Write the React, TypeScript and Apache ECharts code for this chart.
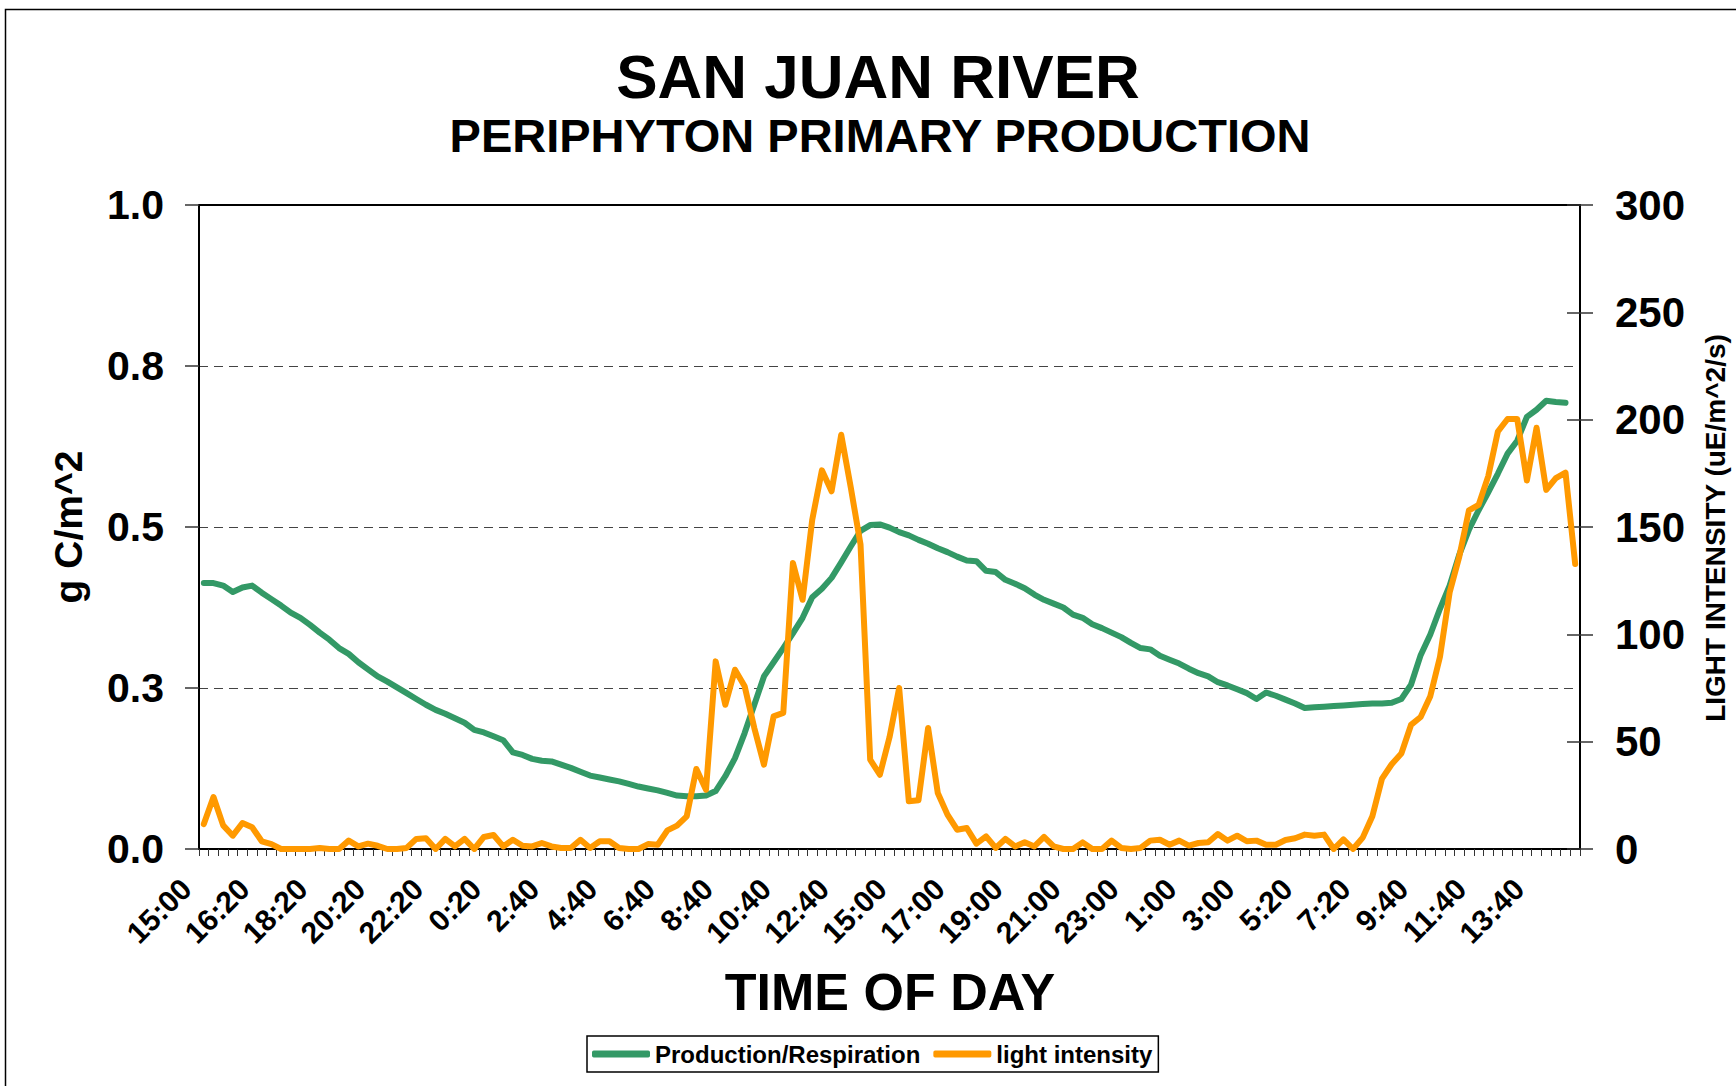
import React, { useEffect, useRef } from "react";
import * as echarts from "echarts";

const FONT = '"Liberation Sans", Arial, Helvetica, sans-serif';

const categories = [
  "15:00","15:20","15:40","15:50","16:00","16:10","16:20","16:40","17:00","17:20",
  "17:40","18:00","18:20","18:40","19:00","19:20","19:40","20:00","20:20","20:40",
  "21:00","21:20","21:40","22:00","22:20","22:40","23:00","23:20","23:40","0:00",
  "0:20","0:40","1:00","1:20","1:40","2:10","2:40","3:00","3:20","3:40",
  "4:00","4:20","4:40","5:00","5:20","5:40","6:00","6:20","6:40","7:00",
  "7:20","7:40","8:00","8:20","8:40","9:00","9:20","9:40","10:00","10:20",
  "10:40","11:00","11:20","11:40","12:00","12:20","12:40","13:00","13:20","13:40",
  "14:00","14:30","15:00","15:20","15:40","16:00","16:20","16:40","17:00","17:20",
  "17:40","18:00","18:20","18:40","19:00","19:20","19:40","20:00","20:20","20:40",
  "21:00","21:20","21:40","22:00","22:20","22:40","23:00","23:20","23:40","0:00",
  "0:20","0:40","1:00","1:20","1:40","2:00","2:20","2:40","3:00","3:20",
  "3:40","4:00","4:20","4:50","5:20","5:40","6:00","6:20","6:40","7:00",
  "7:20","7:40","8:00","8:20","8:40","9:10","9:40","10:00","10:20","10:40",
  "11:00","11:20","11:40","12:00","12:20","12:40","13:00","13:20","13:40","14:00",
  "14:20","14:40","15:00"
];

const productionRespiration = [
  0.413,0.413,0.409,0.399,0.406,0.409,0.398,0.388,0.378,0.367,
  0.359,0.348,0.336,0.325,0.312,0.303,0.290,0.279,0.268,0.260,
  0.251,0.242,0.233,0.224,0.216,0.210,0.203,0.196,0.185,0.181,
  0.175,0.169,0.150,0.146,0.140,0.137,0.136,0.131,0.126,0.120,
  0.114,0.111,0.108,0.105,0.101,0.097,0.094,0.091,0.087,0.083,
  0.082,0.082,0.083,0.090,0.113,0.141,0.180,0.224,0.268,0.290,
  0.312,0.335,0.359,0.391,0.404,0.421,0.445,0.470,0.494,0.503,
  0.504,0.499,0.492,0.487,0.480,0.474,0.467,0.461,0.454,0.448,
  0.447,0.432,0.430,0.418,0.412,0.405,0.395,0.387,0.381,0.375,
  0.364,0.359,0.349,0.343,0.336,0.329,0.320,0.312,0.310,0.300,
  0.294,0.288,0.280,0.273,0.268,0.259,0.254,0.248,0.242,0.233,
  0.243,0.238,0.232,0.226,0.219,0.220,0.221,0.222,0.223,0.224,
  0.225,0.226,0.226,0.227,0.233,0.255,0.301,0.333,0.373,0.409,
  0.457,0.496,0.526,0.554,0.583,0.614,0.634,0.671,0.682,0.696,
  0.694,0.693,null
];

const lightIntensity = [
  11.6,24.2,11.0,6.2,12.1,10.1,3.6,2.3,0,0,
  0,0,0.5,0,0,3.9,1.2,2.5,1.5,0,
  0,0.5,4.7,5.0,0,4.7,1.2,4.7,0,5.6,
  6.5,1.2,4.3,1.5,1.2,2.8,1.2,0.5,0.5,4.3,
  0.5,3.6,3.6,0.5,0,0,2.3,2.0,8.7,10.9,
  15.2,37.3,27.6,87.4,67.2,83.5,75.8,56.4,39.3,61.8,
  63.4,133.2,116.1,153.4,176.4,166.6,193.0,168.2,141.8,41.6,
  34.6,52.0,75.0,22.2,22.7,56.4,26.1,16.0,9.0,9.8,
  2.5,5.9,0.5,4.7,1.2,3.1,1.2,5.6,1.2,0,
  0,3.1,0,0,3.9,0.5,0,0.5,3.9,4.3,
  2.0,3.9,1.6,2.8,3.1,7.0,3.9,6.2,3.6,3.9,
  2.0,2.0,4.2,5.0,6.7,6.2,6.7,0,4.5,0,
  5.3,15.3,32.8,39.5,44.5,57.8,61.5,71.2,89.5,119.5,
  136.2,157.8,160.3,173.7,194.5,200.3,200.3,171.7,196.2,167.3,
  172.8,175.3,132.8
];

const seriesNames = ["Production/Respiration", "light intensity"];
const seriesColors = ["#339966", "#FF9900"];

function buildOption() {
  const boldText = (size: number) => ({
    fontSize: size,
    fontWeight: "bold",
    fontFamily: FONT,
    color: "#000",
  });
  const gText = (text: string, x: number, y: number, size: number, rotation = 0) => ({
    type: "text",
    x,
    y,
    rotation,
    silent: true,
    style: {
      text,
      fill: "#000",
      fontSize: size,
      fontWeight: "bold",
      fontFamily: FONT,
      align: "center",
      verticalAlign: "middle",
      textAlign: "center",
      textVerticalAlign: "middle",
    },
  });
  return {
    animation: false,
    backgroundColor: "#fff",
    grid: {
      left: 199,
      top: 205,
      width: 1381,
      height: 644,
      show: true,
      borderColor: "#000",
      borderWidth: 2,
      backgroundColor: "transparent",
    },
    legend: {
      left: 587,
      top: 1036,
      orient: "horizontal",
      data: seriesNames,
      icon: "roundRect",
      itemWidth: 58,
      itemHeight: 7,
      itemGap: 13,
      borderColor: "#000",
      borderWidth: 1.5,
      padding: [6, 6, 6, 5],
      backgroundColor: "#fff",
      textStyle: { ...boldText(24), lineHeight: 24 },
    },
    xAxis: {
      type: "category",
      data: categories,
      boundaryGap: true,
      axisLine: { show: true, lineStyle: { color: "#000", width: 1.5 } },
      axisTick: {
        show: true,
        interval: 0,
        length: 7,
        lineStyle: { color: "#333", width: 1 },
      },
      axisLabel: {
        interval: 5,
        rotate: 45,
        margin: 17,
        padding: [0, 25, 0, 0],
        ...boldText(30),
      },
      splitLine: { show: false },
    },
    yAxis: [
      {
        type: "value",
        position: "left",
        min: 0,
        max: 1,
        interval: 0.25,
        axisLine: { show: true, lineStyle: { color: "#000", width: 2 } },
        axisTick: { show: true, length: 14, lineStyle: { color: "#333", width: 1.5 } },
        axisLabel: {
          margin: 35,
          ...boldText(41),
          formatter: (v: number) => v.toFixed(1),
        },
        splitLine: {
          show: true,
          showMinLine: false,
          showMaxLine: false,
          lineStyle: { color: "#444", type: [9, 6], width: 1 },
        },
      },
      {
        type: "value",
        position: "right",
        min: 0,
        max: 300,
        interval: 50,
        axisLine: { show: true, lineStyle: { color: "#000", width: 2 } },
        axisTick: { show: true, length: 13, lineStyle: { color: "#333", width: 1.5 } },
        axisLabel: { margin: 35, ...boldText(42) },
        splitLine: { show: false },
      },
      {
        type: "value",
        position: "right",
        min: 0,
        max: 300,
        interval: 50,
        axisLine: { show: false },
        axisTick: { show: true, inside: true, length: 13, lineStyle: { color: "#333", width: 1.5 } },
        axisLabel: { show: false },
        splitLine: { show: false },
      },
    ],
    series: [
      {
        name: seriesNames[0],
        type: "line",
        yAxisIndex: 0,
        data: productionRespiration,
        symbol: "none",
        smooth: false,
        connectNulls: false,
        color: seriesColors[0],
        lineStyle: { color: seriesColors[0], width: 6, cap: "round", join: "round" },
        z: 3,
      },
      {
        name: seriesNames[1],
        type: "line",
        yAxisIndex: 1,
        data: lightIntensity,
        symbol: "none",
        smooth: false,
        color: seriesColors[1],
        lineStyle: { color: seriesColors[1], width: 6, cap: "round", join: "round" },
        z: 4,
      },
    ],
    graphic: [
      {
        type: "rect",
        silent: true,
        z: -10,
        shape: { x: 5.5, y: 9.5, width: 2000, height: 2000 },
        style: { fill: "none", stroke: "#000", lineWidth: 1.5 },
      },
      gText("SAN JUAN RIVER", 878, 76, 62),
      gText("PERIPHYTON PRIMARY PRODUCTION", 880, 135, 47),
      gText("TIME OF DAY", 890, 992, 52),
      gText("g C/m^2", 68, 527, 39, Math.PI / 2),
      gText("LIGHT INTENSITY (uE/m^2/s)", 1715, 528, 28, Math.PI / 2),
    ],
  };
}

export default function App() {
  const ref = useRef<HTMLDivElement | null>(null);
  useEffect(() => {
    document.body.style.margin = "0";
    if (!ref.current) return;
    const chart = echarts.init(ref.current, null, { renderer: "svg" });
    chart.setOption(buildOption() as any);
    return () => {
      chart.dispose();
    };
  }, []);
  return <div ref={ref} style={{ width: 1736, height: 1086, background: "#fff" }} />;
}
